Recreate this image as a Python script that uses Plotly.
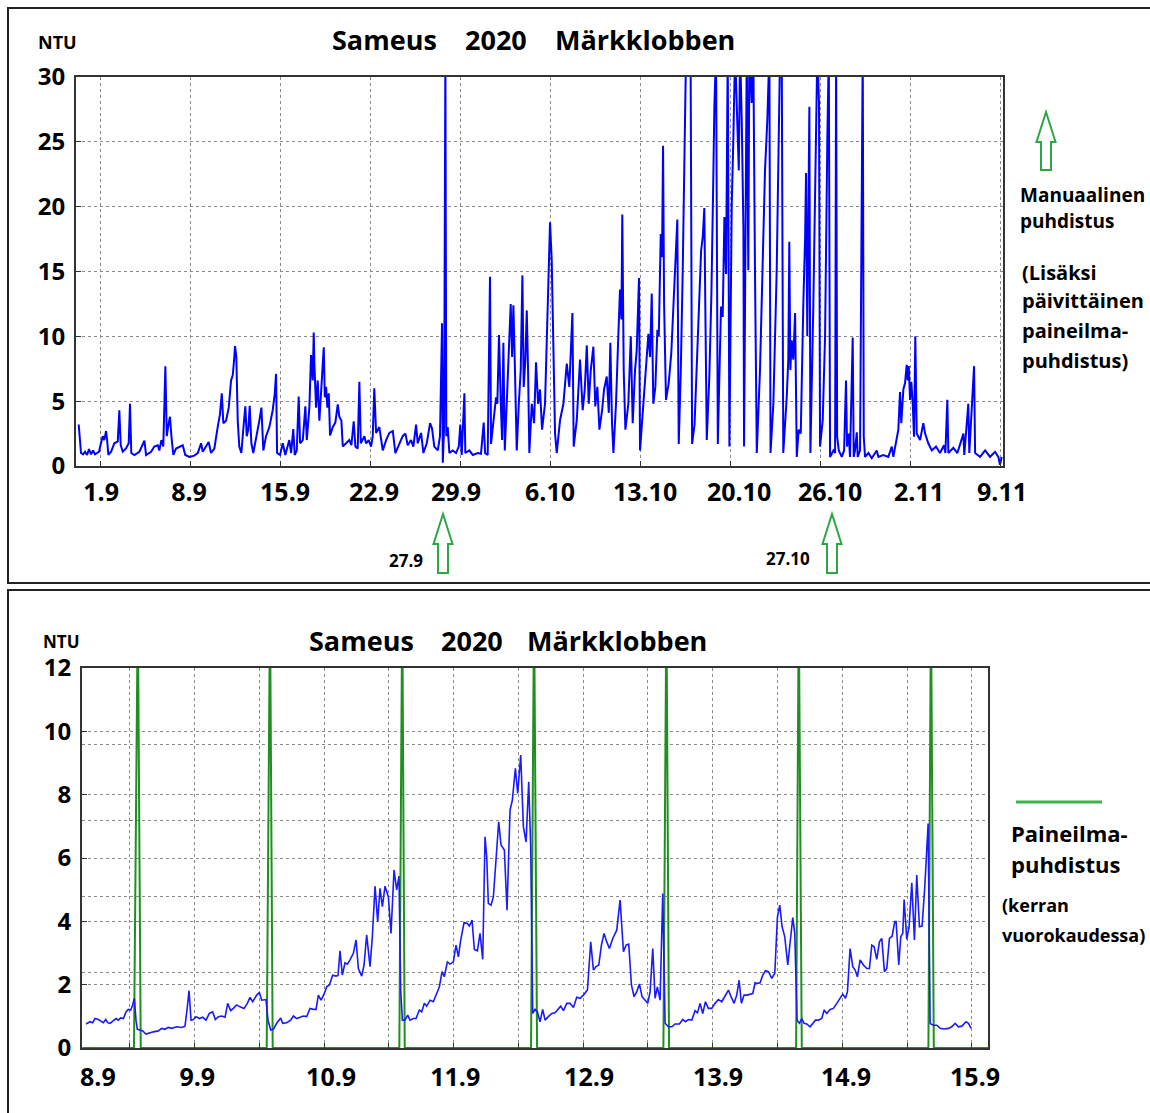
import plotly.graph_objects as go

W, H = 1150, 1113

# ---------------- top chart: turbidity 30.8 - 10.11.2020 (days since 1.9.2020, NTU)
top_day = [
    -1.66, -1.59, -1.48, -1.32, -1.17, -1.01, -0.86, -0.70, -0.54, -0.39,
    -0.23, -0.08, 0.08, 0.21, 0.33, 0.47, 0.54, 0.65, 0.86, 1.11,
    1.38, 1.50, 1.61, 1.77, 2.02, 2.23, 2.33, 2.43, 2.67, 3.06,
    3.45, 3.58, 3.97, 4.22, 4.49, 4.61, 4.77, 4.92, 5.08, 5.19,
    5.34, 5.44, 5.55, 5.70, 5.91, 6.17, 6.43, 6.63, 6.95, 7.33,
    7.60, 7.86, 7.99, 8.24, 8.45, 8.63, 8.89, 9.15, 9.33, 9.47,
    9.59, 9.80, 10.01, 10.19, 10.32, 10.42, 10.50, 10.60, 10.71, 10.83,
    10.99, 11.18, 11.30, 11.41, 11.53, 11.64, 11.77, 11.92, 12.13, 12.39,
    12.55, 12.70, 12.91, 13.17, 13.43, 13.59, 13.69, 13.77, 14.00, 14.21,
    14.41, 14.72, 14.86, 15.03, 15.14, 15.30, 15.45, 15.56, 15.77, 15.97,
    16.08, 16.28, 16.41, 16.54, 16.62, 16.67, 16.80, 16.93, 17.06, 17.19,
    17.32, 17.40, 17.48, 17.58, 17.68, 17.79, 17.89, 18.10, 18.30, 18.49,
    18.61, 18.77, 18.88, 19.13, 19.39, 19.55, 19.73, 19.86, 20.04, 20.17,
    20.28, 20.56, 20.69, 20.90, 21.08, 21.21, 21.33, 21.47, 21.72, 21.99,
    22.25, 22.50, 22.77, 22.97, 23.28, 23.54, 23.75, 23.93, 24.19, 24.37,
    24.58, 24.71, 24.97, 25.15, 25.41, 25.67, 25.82, 26.00, 26.27, 26.44,
    26.60, 26.66, 26.76, 26.86, 26.93, 27.04, 27.17, 27.43, 27.69, 27.90,
    28.02, 28.13, 28.34, 28.41, 28.72, 28.99, 29.38, 29.63, 29.84, 29.95,
    30.15, 30.33, 30.41, 30.59, 30.80, 30.90, 31.03, 31.17, 31.27, 31.37,
    31.48, 31.63, 31.79, 31.94, 32.05, 32.15, 32.26, 32.41, 32.57, 32.72,
    32.85, 32.95, 33.08, 33.19, 33.29, 33.39, 33.58, 33.76, 33.91, 34.07,
    34.22, 34.38, 34.61, 34.74, 34.87, 35.00, 35.13, 35.26, 35.39, 35.52,
    35.78, 36.04, 36.30, 36.50, 36.74, 36.84, 37.08, 37.33, 37.54, 37.70,
    37.86, 38.01, 38.17, 38.37, 38.52, 38.68, 38.84, 39.05, 39.20, 39.41,
    39.57, 39.69, 39.82, 39.93, 40.13, 40.31, 40.44, 40.55, 40.62, 40.73,
    40.86, 41.09, 41.28, 41.43, 41.61, 41.74, 41.92, 42.00, 42.26, 42.47,
    42.65, 42.78, 42.91, 43.03, 43.19, 43.35, 43.46, 43.61, 43.71, 43.79,
    43.87, 44.02, 44.23, 44.43, 44.59, 44.74, 44.90, 45.01, 45.17, 45.32,
    45.50, 45.58, 45.93, 46.05, 46.24, 46.49, 46.61, 46.75, 46.88, 47.00,
    47.08, 47.19, 47.39, 47.55, 47.70, 47.78, 47.91, 48.05, 48.17, 48.30,
    48.43, 48.56, 48.69, 48.82, 48.95, 49.13, 49.26, 49.39, 49.68, 49.78,
    49.91, 50.04, 50.09, 50.25, 50.30, 50.42, 50.50, 50.68, 50.81, 50.94,
    51.08, 51.33, 51.54, 51.72, 51.90, 52.06, 52.15, 52.37, 52.63, 52.76,
    52.89, 53.02, 53.14, 53.41, 53.53, 53.61, 53.69, 53.80, 53.92, 54.06,
    54.19, 54.34, 54.50, 54.70, 54.84, 54.91, 55.01, 55.17, 55.25, 55.48,
    55.67, 55.79, 55.92, 56.00, 56.21, 56.39, 56.57, 56.68, 56.78, 57.04,
    57.17, 57.25, 57.33, 57.46, 57.69, 57.87, 58.02, 58.10, 58.23, 58.33,
    58.54, 58.62, 58.72, 58.86, 58.93, 59.11, 59.32, 59.40, 59.50, 59.76,
    60.02, 60.41, 60.54, 60.92, 61.31, 61.58, 61.70, 61.91, 62.09, 62.22,
    62.32, 62.48, 62.61, 62.74, 62.82, 62.90, 63.00, 63.10, 63.21, 63.31,
    63.41, 63.52, 63.78, 64.03, 64.17, 64.42, 64.69, 65.02, 65.33, 65.64,
    65.75, 65.90, 65.98, 66.37, 66.68, 67.15, 67.22, 67.53, 67.61, 67.98,
    68.06, 68.45, 68.84, 69.22, 69.61, 69.87, 70.00, 70.13,
]
top_ntu = [
    3.2, 2.0, 1.0, 0.9, 1.1, 0.85, 1.3, 0.9, 1.2, 0.9,
    1.0, 1.1, 1.8, 2.3, 2.0, 2.7, 2.1, 0.85, 1.1, 1.75,
    1.9, 4.3, 1.6, 1.1, 1.35, 1.75, 4.8, 1.0, 0.85, 1.1,
    1.95, 0.85, 1.1, 1.5, 1.6, 1.2, 2.0, 1.5, 7.7, 2.3,
    3.3, 3.8, 2.3, 0.85, 1.35, 1.5, 1.6, 0.85, 0.7, 0.8,
    1.0, 1.75, 1.1, 1.5, 1.85, 1.0, 1.35, 3.0, 4.0, 5.6,
    3.3, 3.5, 4.5, 6.6, 7.0, 8.1, 9.25, 8.4, 3.5, 1.5,
    1.0, 3.3, 4.6, 2.3, 2.8, 4.65, 1.75, 1.0, 2.0, 3.5,
    4.5, 1.2, 2.3, 3.0, 4.3, 5.6, 7.1, 1.0, 0.85, 1.75,
    0.85, 2.0, 1.0, 2.85, 0.85, 1.2, 5.35, 1.75, 2.0, 4.6,
    2.0, 4.5, 8.55, 6.6, 10.3, 7.9, 4.5, 6.6, 3.5, 5.8,
    7.1, 9.15, 5.3, 6.1, 4.5, 5.6, 2.35, 3.0, 3.35, 4.75,
    3.8, 3.5, 1.5, 1.75, 2.0, 1.6, 3.45, 1.5, 1.35, 6.5,
    1.75, 2.3, 1.75, 2.0, 1.5, 2.3, 6.0, 2.55, 3.0, 1.2,
    2.0, 2.55, 2.7, 1.0, 1.75, 2.3, 2.5, 1.6, 2.0, 1.5,
    3.2, 1.75, 2.55, 1.0, 1.75, 3.3, 2.9, 1.5, 1.2, 2.3,
    11.0, 0.25, 3.0, 32, 2.3, 3.0, 1.0, 1.2, 1.0, 1.5,
    3.2, 0.85, 5.6, 1.0, 1.2, 0.85, 1.0, 0.95, 3.35, 1.0,
    0.85, 14.6, 1.7, 3.55, 5.3, 4.8, 10.1, 4.8, 2.0, 9.5,
    1.2, 4.8, 8.7, 12.5, 8.4, 12.4, 7.9, 1.2, 4.8, 7.4,
    14.7, 6.1, 8.2, 12.0, 7.4, 1.0, 4.8, 3.3, 8.0, 4.8,
    5.9, 2.8, 4.8, 8.9, 13.0, 18.8, 15.9, 10.2, 2.5, 1.0,
    3.55, 4.8, 7.9, 6.1, 11.8, 1.5, 3.55, 8.2, 4.3, 5.9,
    9.3, 4.8, 7.4, 9.2, 4.6, 6.1, 2.8, 4.3, 5.9, 6.9,
    4.1, 9.5, 3.3, 1.0, 4.8, 10.0, 13.6, 11.3, 19.4, 7.4,
    2.8, 4.8, 10.0, 3.3, 7.4, 8.9, 14.5, 1.2, 4.8, 7.4,
    10.2, 8.4, 13.3, 4.8, 6.1, 10.5, 10.0, 17.9, 16.1, 24.7,
    12.5, 5.1, 6.4, 8.7, 12.0, 15.1, 19.0, 1.7, 7.4, 15.1,
    29, 32, 32, 1.7, 3.2, 10.0, 14.1, 16.6, 17.7, 19.9,
    12.0, 2.0, 6.9, 13.3, 22.3, 27.7, 32, 1.7, 6.9, 12.3,
    11.5, 19.2, 14.8, 32, 1.5, 20.0, 25.4, 32, 22.8, 32,
    26.7, 18.4, 1.5, 22.8, 32, 15.1, 32, 28, 32, 15,
    1.0, 7.4, 15.6, 22.8, 26.7, 32, 1.0, 4.8, 15.1, 22.8,
    32, 32, 1.0, 5.3, 8.2, 17.3, 7.4, 9.7, 8.2, 11.8,
    0.7, 2.8, 2.5, 12.5, 17.7, 22.6, 10.0, 27.7, 1.0, 12.5,
    25.4, 32, 28, 1.5, 3.55, 10.0, 25.4, 32, 0.7, 1.2,
    1.0, 32, 2.26, 1.2, 0.7, 1.2, 6.6, 1.5, 2.5, 0.7,
    9.9, 0.7, 1.2, 2.6, 0.7, 1.2, 32, 2.26, 0.7, 1.0,
    0.6, 1.2, 0.7, 0.85, 0.7, 1.5, 0.7, 2.0, 2.8, 5.7,
    3.3, 5.9, 6.4, 7.8, 6.6, 7.7, 5.1, 6.5, 4.8, 2.26,
    10.0, 2.5, 2.0, 3.3, 2.5, 1.75, 1.2, 1.5, 1.0, 1.6,
    1.0, 5.1, 1.0, 1.4, 1.0, 2.5, 0.85, 4.8, 1.0, 7.7,
    1.0, 0.7, 1.2, 0.7, 1.1, 0.7, 0.1, 0.7,
]
top_tick_day = [0.08, 6.92, 14.39, 21.31, 27.69, 35.0, 42.39, 49.7, 56.78, 63.7, 70.15]
top_tick_text = ["1.9", "8.9", "15.9", "22.9", "29.9", "6.10", "13.10", "20.10", "26.10", "2.11", "9.11"]
top_grid_day = [0, 7, 14, 21, 28, 35, 42, 49, 56, 63, 70]
top_y_ticks = [0, 5, 10, 15, 20, 25, 30]

# ---------------- bottom chart: 8.9 - 15.9.2020 (hours since 8.9 00:00)
bot_hour = [
    3.89, 4.63, 5.13, 5.56, 6.18, 6.79, 7.10, 7.54, 7.91, 8.34,
    8.96, 9.45, 9.88, 10.31, 10.81, 11.30, 11.73, 12.17, 12.54, 12.85,
    13.15, 13.40, 13.90, 14.39, 15.01, 15.63, 16.37, 17.29, 17.91, 18.53,
    19.15, 19.76, 20.69, 21.62, 22.23, 22.67, 22.98, 23.35, 23.78, 24.27,
    24.89, 25.51, 26.12, 26.74, 27.36, 27.85, 28.41, 29.03, 29.65, 30.14,
    30.70, 31.19, 31.81, 32.42, 33.17, 33.78, 34.28, 34.77, 35.51, 36.01,
    36.44, 37.24, 37.61, 38.11, 38.60, 39.22, 39.96, 40.33, 41.07, 41.81,
    42.31, 42.92, 43.54, 44.16, 44.78, 45.39, 46.01, 46.51, 46.94, 47.43,
    47.99, 48.48, 48.98, 49.59, 50.21, 50.58, 50.95, 51.38, 51.88, 52.31,
    52.80, 53.42, 53.92, 54.35, 54.97, 55.40, 55.89, 56.51, 56.94, 57.44,
    57.93, 58.36, 58.80, 59.29, 59.91, 60.40, 60.96, 61.45, 61.88, 62.19,
    62.50, 62.99, 63.49, 63.92, 64.54, 65.03, 65.65, 66.08, 66.58, 67.01,
    67.63, 68.25, 68.86, 69.36, 69.85, 70.28, 70.84, 71.33, 71.95, 72.44,
    72.88, 73.31, 73.93, 74.54, 74.91, 75.41, 75.84, 76.40, 76.89, 77.39,
    77.82, 78.13, 78.43, 78.93, 79.36, 79.86, 80.35, 80.78, 81.40, 81.89,
    82.45, 82.88, 83.44, 83.87, 84.43, 84.92, 85.42, 85.91, 86.28, 86.65,
    87.08, 87.51, 88.01, 88.50, 88.94, 89.55, 90.17, 90.79, 91.40,
    91.84, 92.34, 92.96, 93.57, 94.19, 94.81, 95.43, 96.04, 96.79, 97.40,
    97.90, 98.39, 98.89, 99.38, 99.87, 100.37, 100.86, 101.48, 102.22, 102.84,
    103.46, 103.95, 104.44, 104.94, 105.43, 105.93, 106.42, 106.91, 107.47, 107.96,
    108.40, 108.89, 109.32, 109.75, 110.25, 110.74, 111.18, 111.79, 112.41, 113.03,
    113.83, 114.45, 114.94, 115.50, 116.12, 116.73, 117.17, 117.66, 118.15, 118.65,
    119.20, 119.82, 120.44, 121.06, 121.67, 122.29, 122.91, 123.40, 123.96, 124.45,
    124.89, 125.32, 125.81, 126.31, 126.92, 127.42, 127.85, 128.28, 128.78, 129.27,
    129.77, 130.32, 130.94, 131.50, 131.99, 132.42, 132.85, 133.35, 133.90, 134.46,
    134.83, 135.20, 135.63, 136.07, 136.50, 136.93, 137.42, 138.04, 138.54, 139.03,
    139.59, 140.20, 140.64, 141.13, 141.75, 142.36, 142.98, 143.60, 144.09, 144.59,
    144.96, 145.45, 145.95, 146.38, 146.81, 147.31, 147.92, 148.54, 149.03, 149.47,
    149.90, 150.39, 150.89, 151.32, 151.81, 152.25, 152.74, 153.23, 153.73, 153.98,
    154.47, 154.84, 155.21, 155.46, 155.95, 156.38, 156.88, 157.37, 157.80, 158.30,
    158.79, 159.29, 159.91, 160.28, 160.40, 160.89, 161.51, 162.13, 162.87, 163.67,
    164.29, 164.91, 165.52, 166.14, 166.94, 167.38, 167.87,
]
bot_ntu = [
    0.76, 0.83, 0.80, 0.93, 0.90, 0.83, 0.80, 0.90, 0.80, 0.78,
    0.88, 0.93, 0.88, 0.95, 0.93, 1.14, 1.22, 1.20, 1.36, 1.57,
    0.88, 0.59, 0.57, 0.54, 0.44, 0.48, 0.51, 0.54, 0.62, 0.59,
    0.65, 0.62, 0.67, 0.65, 0.69, 1.30, 1.81, 0.88, 0.90, 0.99,
    0.93, 0.97, 0.88, 1.09, 1.14, 0.90, 0.99, 1.01, 0.97, 1.41,
    1.18, 1.25, 1.36, 1.30, 1.25, 1.41, 1.60, 1.46, 1.67, 1.75,
    1.51, 1.53, 0.88, 0.57, 0.59, 0.78, 0.95, 0.78, 0.80, 0.88,
    1.01, 0.93, 0.97, 1.01, 0.99, 1.25, 1.22, 1.22, 1.67, 1.51,
    1.70, 1.93, 1.99, 2.30, 2.27, 2.29, 3.07, 2.30, 2.69, 2.65,
    2.78, 2.99, 3.41, 2.51, 2.27, 2.62, 3.57, 2.57, 3.51, 5.11,
    3.99, 5.04, 4.46, 5.11, 4.77, 3.62, 5.62, 4.99, 5.43, 1.83,
    0.88, 0.88, 1.04, 0.88, 0.93, 0.93, 1.20, 1.14, 1.41, 1.32,
    1.51, 1.46, 1.72, 1.93, 2.41, 2.25, 2.72, 2.65, 2.72, 3.25,
    2.88, 3.41, 3.96, 3.93, 3.85, 4.04, 3.11, 3.07, 3.62, 2.80,
    6.67, 6.04, 4.57, 4.51, 4.77, 6.14, 7.14, 6.41, 6.25, 4.35,
    7.51, 7.83, 8.83, 8.04, 9.25, 6.99, 6.51, 8.41, 6.35, 1.09,
    1.22, 1.14, 0.83, 1.22, 0.88, 0.99, 1.09, 1.11, 1.25,
    1.32, 1.18, 1.41, 1.41, 1.28, 1.60, 1.57, 1.67, 1.83, 3.35,
    2.46, 2.57, 2.62, 3.25, 3.62, 3.35, 3.14, 3.46, 3.72, 4.67,
    3.04, 3.25, 3.28, 1.99, 1.62, 1.78, 2.02, 1.62, 1.49, 1.41,
    1.78, 3.14, 1.57, 1.93, 1.51, 4.88, 0.78, 0.67, 0.67, 0.76,
    0.76, 0.90, 0.83, 0.90, 0.88, 1.18, 1.11, 1.41, 1.09, 1.46,
    1.25, 1.25, 1.41, 1.53, 1.46, 1.67, 1.83, 1.62, 1.41, 1.67,
    2.14, 1.41, 1.67, 1.67, 1.69, 1.72, 2.06, 2.04, 2.06, 2.30,
    2.44, 2.41, 2.20, 2.36, 4.14, 4.51, 3.83, 3.51, 2.62, 3.62,
    4.12, 3.62, 0.88, 0.78, 0.93, 0.78, 0.76, 0.67, 0.76, 0.88,
    0.88, 0.93, 1.20, 1.09, 1.22, 1.25, 1.41, 1.57, 1.70, 1.57,
    1.78, 3.14, 2.57, 2.46, 2.25, 2.78, 2.62, 2.51, 2.51, 3.25,
    3.20, 2.80, 3.35, 3.46, 2.41, 2.51, 3.46, 3.53, 3.99, 3.99,
    2.62, 3.51, 3.62, 4.69, 3.43, 3.83, 5.22, 3.41, 5.46, 3.83,
    3.85, 5.09, 7.09, 0.78, 0.76, 0.72, 0.72, 0.62, 0.60, 0.62,
    0.67, 0.78, 0.67, 0.69, 0.83, 0.78, 0.62,
]
# compressed-air cleaning signal (once a day)
clean_hour = [3.2, 12.78, 13.49, 14.03, 37.37, 37.98, 38.48, 61.94, 62.48, 62.94,
              86.34, 86.90, 87.46, 110.86, 111.42, 111.91, 135.45, 135.94, 136.50,
              159.96, 160.43, 160.96, 171.0]
clean_level = [0, 0, 14, 0, 0, 14, 0, 0, 14, 0,
               0, 14, 0, 0, 14, 0, 0, 14, 0,
               0, 14, 0, 0]
bot_tick_hour = [6.1, 24.5, 49.3, 72.3, 97.1, 121.0, 144.7, 168.6]
bot_tick_text = ["8.9", "9.9", "10.9", "11.9", "12.9", "13.9", "14.9", "15.9"]
bot_grid_hour = [12, 24, 36, 48, 60, 72, 84, 96, 108, 120, 132, 144, 156, 168]
bot_y_ticks = [0, 2, 4, 6, 8, 10, 12]
bot_grid2 = [2.4, 4.8, 7.2, 9.6]

FONT = "Open Sans"


def px(x):
    return x / W


def py(y):
    return 1 - y / H


fig = go.Figure()
fig.add_trace(go.Scatter(x=top_day, y=top_ntu, mode="lines", xaxis="x", yaxis="y",
                         line=dict(color="#0000ff", width=2), showlegend=False, hoverinfo="skip"))
fig.add_trace(go.Scatter(x=clean_hour, y=clean_level, mode="lines", xaxis="x2", yaxis="y2",
                         line=dict(color="#1f8f1f", width=2), showlegend=False, hoverinfo="skip"))
fig.add_trace(go.Scatter(x=bot_hour, y=bot_ntu, mode="lines", xaxis="x2", yaxis="y2",
                         line=dict(color="#1a1aff", width=1.6), showlegend=False, hoverinfo="skip"))

tickfont_x = dict(family=FONT, size=25, color="black", weight="bold")
tickfont_y = dict(family=FONT, size=24, color="black", weight="bold")
grid = dict(gridcolor="#8a8a8a", griddash="dot", gridwidth=1)
frame = dict(showline=True, linecolor="#333333", linewidth=2, mirror=True, zeroline=False,
             automargin=False)

fig.update_layout(
    width=W, height=H, autosize=False,
    margin=dict(l=0, r=0, t=0, b=0, pad=0, autoexpand=False),
    paper_bgcolor="white", plot_bgcolor="white", showlegend=False,
    xaxis=dict(domain=[px(76), px(1003)], range=[-1.87, 70.23], anchor="y",
               tickmode="array", tickvals=top_tick_day, ticktext=top_tick_text,
               showgrid=False, ticks="", tickfont=tickfont_x, ticklabelstandoff=3,
               minor=dict(tickmode="array", tickvals=top_grid_day, showgrid=True,
                          ticks="inside", ticklen=5, tickcolor="#333333", **grid),
               **frame),
    yaxis=dict(domain=[py(466), py(77)], range=[0, 30], anchor="x",
               tickmode="array", tickvals=top_y_ticks, showgrid=True, **grid,
               ticks="inside", ticklen=5, tickcolor="#333333",
               tickfont=tickfont_y, ticklabelstandoff=4, **frame),
    xaxis2=dict(domain=[px(82), px(988)], range=[3.15, 171.0], anchor="y2",
                tickmode="array", tickvals=bot_tick_hour, ticktext=bot_tick_text,
                showgrid=False, ticks="", tickfont=tickfont_x, ticklabelstandoff=6,
                minor=dict(tickmode="array", tickvals=bot_grid_hour, showgrid=True,
                           ticks="inside", ticklen=5, tickcolor="#333333", **grid),
                **frame),
    yaxis2=dict(domain=[py(1048), py(668)], range=[0, 12], anchor="x2",
                tickmode="array", tickvals=bot_y_ticks, showgrid=True, **grid,
                ticks="inside", ticklen=5, tickcolor="#333333",
                minor=dict(tickmode="array", tickvals=bot_grid2, showgrid=True,
                           ticks="", **grid),
                tickfont=tickfont_y, ticklabelstandoff=4, **frame),
)


def txt(x, y, s, size, anchor="left"):
    fig.add_annotation(x=px(x), y=py(y), xref="paper", yref="paper", text=s, showarrow=False,
                       xanchor=anchor, yanchor="middle",
                       font=dict(family=FONT, size=size, color="black", weight="bold"))


# titles (word by word to keep the wide spacing)
for cx, word in [(384.5, "Sameus"), (495.5, "2020"), (644.5, "Märkklobben")]:
    txt(cx, 40, word, 27, "center")
for cx, word in [(361.5, "Sameus"), (471.5, "2020"), (617, "Märkklobben")]:
    txt(cx, 640, word, 27, "center")
txt(57, 42, "NTU", 18, "center")
txt(61, 641, "NTU", 17, "center")

# notes, top
txt(1018, 195, "Manuaalinen", 19)
txt(1018, 221, "puhdistus", 19)
txt(1020, 272, "(Lisäksi", 20)
txt(1020, 301, "päivittäinen", 20)
txt(1020, 331, "paineilma-", 20)
txt(1020, 360, "puhdistus)", 20)
txt(406, 560, "27.9", 17, "center")
txt(788, 558, "27.10", 17, "center")

# notes, bottom
txt(1009, 833, "Paineilma-", 22)
txt(1009, 864, "puhdistus", 22)
txt(1000, 905, "(kerran", 18)
txt(1000, 935, "vuorokaudessa)", 18)


def arrow_path(cx, ty, by, hw=9.5, sw=5.0, hh=30):
    pts = [(cx, ty), (cx + hw, ty + hh), (cx + sw, ty + hh), (cx + sw, by),
           (cx - sw, by), (cx - sw, ty + hh), (cx - hw, ty + hh)]
    return "M " + " L ".join(f"{px(x):.5f},{py(y):.5f}" for x, y in pts) + " Z"


shapes = []
for cx, ty, by in [(1046, 112, 170), (443, 514, 573), (832, 514, 573)]:
    shapes.append(dict(type="path", xref="paper", yref="paper", path=arrow_path(cx, ty, by),
                       line=dict(color="#2aa844", width=2), fillcolor="rgba(0,0,0,0)"))
# panel frames
shapes.append(dict(type="rect", xref="paper", yref="paper", x0=px(8), x1=px(1165),
                   y0=py(583), y1=py(8), line=dict(color="#222222", width=2)))
shapes.append(dict(type="rect", xref="paper", yref="paper", x0=px(8), x1=px(1165),
                   y0=py(1125), y1=py(590), line=dict(color="#222222", width=2)))
# legend line for the cleaning signal
shapes.append(dict(type="line", xref="paper", yref="paper", x0=px(1016), x1=px(1102),
                   y0=py(802), y1=py(802), line=dict(color="#3cb44b", width=3)))
fig.update_layout(shapes=shapes)

fig.write_html("out.html", config={"displayModeBar": False},
               post_script="document.body.style.margin='0';document.body.style.overflow='hidden';")
